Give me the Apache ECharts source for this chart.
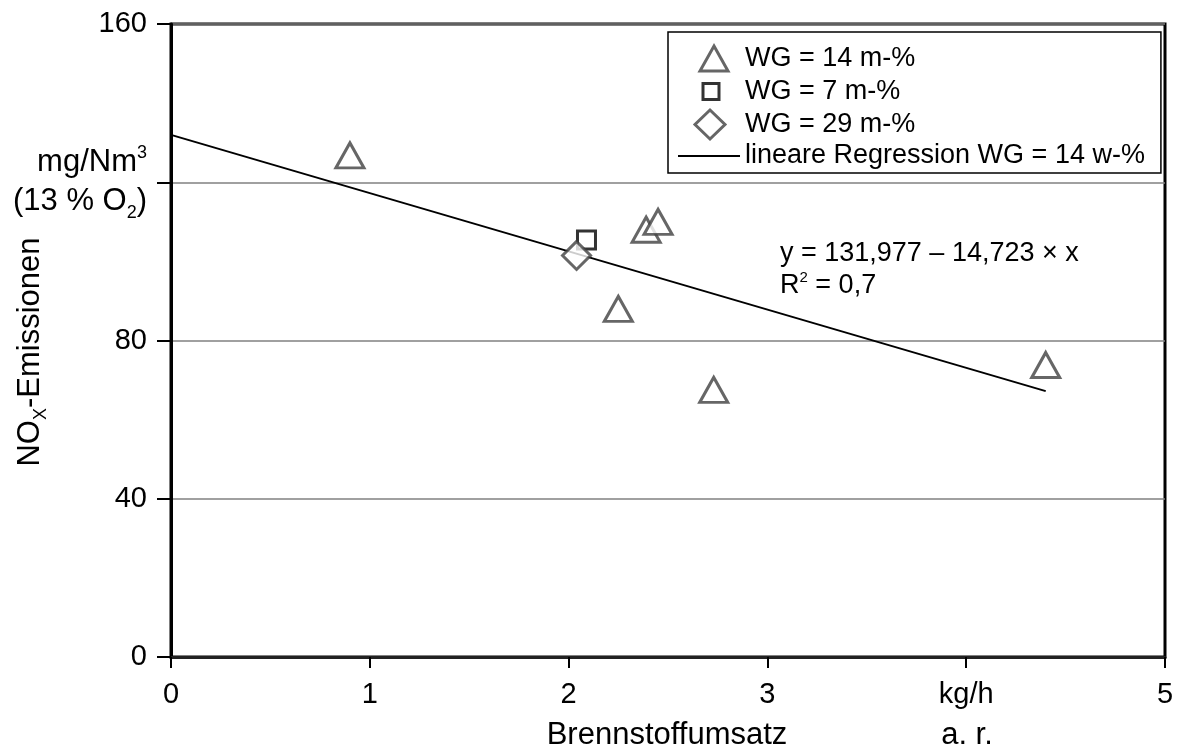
<!DOCTYPE html>
<html>
<head>
<meta charset="utf-8">
<script src="https://cdn.jsdelivr.net/npm/echarts@6/dist/echarts.min.js"></script>
<style>
html,body{margin:0;padding:0;background:#fff;}
#chart{width:1181px;height:749px;}
</style>
</head>
<body>
<div id="chart"></div>
<script>
// ---- data ----
const wg14 = [[0.90,126.8],[2.39,108.0],[2.45,110.0],[2.25,88.0],[2.73,67.5],[4.40,73.8]];
const wg7 = [[2.09,105.4]];
const wg29 = [[2.04,101.5]];
const regression = [[0,131.977],[4.40,67.2]];
const xTickLabels = ['0','1','2','3','kg/h','5'];
const seriesNames = ['WG = 14 m-%','WG = 7 m-%','WG = 29 m-%','lineare Regression WG = 14 w-%'];
const eqText = 'y = 131,977 \u2013 14,723 \u00d7 x';
const r2Text = '{t|R}{sp|2}{t| = 0,7}';

const FONT = '"Liberation Sans", Arial, Helvetica, sans-serif';
const chart = echarts.init(document.getElementById('chart'), null, {renderer:'canvas'});

// legend icons (padding moves position the glyph inside the icon box)
const ICON_TRI = 'path://M-10,-2.5 M28,27.5 M14,0 L28,25 L0,25 Z';
const ICON_SQ = 'path://M-16,-7 M28,23 M0,0 L16,0 L16,16 L0,16 Z';
const ICON_DIA = 'path://M-2,-0.5 M30,29.5 M15,0 L30,14.5 L15,29 L0,14.5 Z';
const ICON_LINE = 'path://M0,0 L62,0 L62,2 L0,2 Z';

const option = {
  backgroundColor:'#fff',
  animation:false,
  textStyle:{fontFamily:FONT},
  grid:{left:171,right:16,top:24,bottom:92,show:true,borderColor:'#000',borderWidth:3,backgroundColor:'transparent'},
  xAxis:{
    type:'value',min:0,max:5,interval:1,
    axisLine:{show:true,lineStyle:{color:'#222',width:3}},
    axisTick:{show:true,length:11,lineStyle:{color:'#000',width:2}},
    axisLabel:{fontSize:29,color:'#000',fontFamily:FONT,margin:23,
      formatter:(v)=>xTickLabels[Math.round(v)]},
    splitLine:{show:false}
  },
  yAxis:{
    type:'value',min:0,max:160,interval:40,
    axisLine:{show:true,lineStyle:{color:'#000',width:3}},
    axisTick:{show:true,length:14,lineStyle:{color:'#000',width:2}},
    axisLabel:{fontSize:29,color:'#000',fontFamily:FONT,margin:24,
      formatter:(v)=> v===120 ? '{t|mg/Nm}{sp|3}\n{t|(13 % O}{sb|2}{t|)}' : String(v),
      rich:{
        t:{fontSize:31,lineHeight:39,fontFamily:FONT,color:'#000'},
        sp:{fontSize:18,fontFamily:FONT,color:'#000',verticalAlign:'middle',padding:[0,0,18,0]},
        sb:{fontSize:18,fontFamily:FONT,color:'#000',verticalAlign:'middle',padding:[22,0,0,0]}
      }
    },
    splitLine:{show:true,lineStyle:{color:'#808080',width:1.5}}
  },
  legend:{
    orient:'vertical',left:668,top:32,
    backgroundColor:'#fff',borderColor:'#000',borderWidth:1.5,
    padding:[10,16,2,10],
    itemWidth:62,itemHeight:30,itemGap:0,
    itemStyle:{borderWidth:3},
    textStyle:{fontSize:27,color:'#000',fontFamily:FONT,lineHeight:30},
    data:[
      {name:seriesNames[0],icon:ICON_TRI},
      {name:seriesNames[1],icon:ICON_SQ},
      {name:seriesNames[2],icon:ICON_DIA},
      {name:seriesNames[3],icon:ICON_LINE,itemStyle:{color:'#000',borderWidth:0}}
    ]
  },
  series:[
    {name:seriesNames[3],type:'line',data:regression,symbol:'none',
      lineStyle:{color:'#000',width:2},itemStyle:{color:'#000'},z:2},
    {name:seriesNames[0],type:'scatter',data:wg14,symbol:'triangle',symbolSize:[28,25],
      itemStyle:{color:'#fff',borderColor:'#404040',borderWidth:3},z:3},
    {name:seriesNames[1],type:'scatter',data:wg7,symbol:'rect',symbolSize:18,
      itemStyle:{color:'#fff',borderColor:'#000',borderWidth:3},z:3},
    {name:seriesNames[2],type:'scatter',data:wg29,symbol:'diamond',symbolSize:[28,28],
      itemStyle:{color:'#fff',borderColor:'#404040',borderWidth:3},z:4}
  ],
  graphic:[
    {type:'text',left:780,top:240,style:{text:eqText,font:'27px '+FONT,fill:'#000'}},
    {type:'text',left:780,top:270,style:{text:r2Text,fill:'#000',
      rich:{t:{fontSize:27,lineHeight:36,fontFamily:FONT,fill:'#000'},
            sp:{fontSize:15,fontFamily:FONT,fill:'#000',verticalAlign:'middle',padding:[0,0,16,0]}}}},
    {type:'text',x:30,y:352,rotation:Math.PI/2,
      style:{text:'{t|NO}{sb|X}{t|-Emissionen}',align:'center',verticalAlign:'middle',fill:'#000',
        rich:{t:{fontSize:31,lineHeight:38,fontFamily:FONT,fill:'#000'},
              sb:{fontSize:18,fontFamily:FONT,fill:'#000',verticalAlign:'middle',padding:[22,0,0,0]}}}},
    {type:'text',x:667,y:735,style:{text:'Brennstoffumsatz',font:'31px '+FONT,fill:'#000',align:'center',verticalAlign:'middle'}},
    {type:'text',x:967,y:735,style:{text:'a. r.',font:'31px '+FONT,fill:'#000',align:'center',verticalAlign:'middle'}}
  ]
};
chart.setOption(option);
</script>
</body>
</html>
